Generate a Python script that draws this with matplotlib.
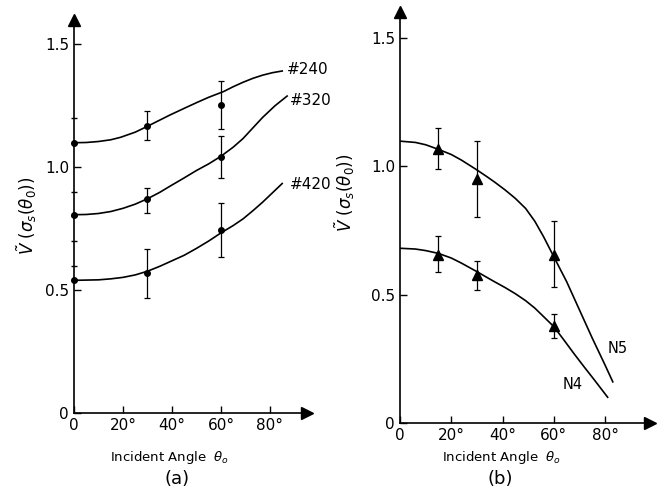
import matplotlib.pyplot as plt

# panel (a): measured points and fitted curves
ang_a = [0, 30, 60]
v240 = [1.10, 1.17, 1.255]
v240_lo = [0, 0.06, 0.10]
v240_hi = [0, 0.06, 0.095]
v320 = [0.807, 0.87, 1.042]
v320_lo = [0, 0.054, 0.085]
v320_hi = [0, 0.047, 0.085]
v420 = [0.54, 0.568, 0.744]
v420_lo = [0, 0.10, 0.11]
v420_hi = [0, 0.10, 0.11]

curve_x_a = [0, 5, 10, 15, 19, 25, 30, 35, 39, 45, 50, 55, 61, 65, 69, 73, 77, 81, 85]
c240 = [1.10, 1.101, 1.105, 1.112, 1.122, 1.143, 1.167, 1.192, 1.212, 1.24, 1.263, 1.285, 1.308,
        1.328, 1.346, 1.362, 1.375, 1.385, 1.392]
curve_x_320 = [0, 5, 10, 15, 20, 25, 30, 35, 39, 45, 50, 55, 60, 65, 69, 73, 77, 82, 87]
c320 = [0.807, 0.808, 0.812, 0.82, 0.833, 0.85, 0.872, 0.898, 0.922, 0.957, 0.987, 1.014, 1.045,
        1.082, 1.117, 1.16, 1.203, 1.25, 1.29]
curve_x_420 = [0, 5, 10, 15, 20, 25, 30, 35, 39, 45, 50, 55, 60, 65, 69, 73, 77, 81, 85]
c420 = [0.54, 0.541, 0.542, 0.546, 0.552, 0.562, 0.577, 0.597, 0.615, 0.642, 0.67, 0.7, 0.733,
        0.763, 0.79, 0.823, 0.858, 0.896, 0.934]

# panel (b)
ang_b = [15, 30, 60]
n5 = [1.066, 0.948, 0.654]
n5_lo = [0.078, 0.148, 0.126]
n5_hi = [0.081, 0.149, 0.133]
n4 = [0.654, 0.576, 0.377]
n4_lo = [0.065, 0.058, 0.047]
n4_hi = [0.074, 0.056, 0.047]

curve_x_n5 = [0, 6, 10, 15, 20, 24, 30, 34, 37, 41, 45, 49, 52.6, 56, 60, 65, 70, 75, 80, 83]
c_n5 = [1.097, 1.092, 1.083, 1.065, 1.045, 1.023, 0.985, 0.958, 0.937, 0.907, 0.874, 0.835, 0.785,
        0.725, 0.647, 0.55, 0.44, 0.33, 0.225, 0.16]
curve_x_n4 = [0, 6, 10, 15, 20, 24, 30, 34, 37, 41, 45, 49, 52.6, 56, 60, 64, 68, 72, 76, 81]
c_n4 = [0.68, 0.677, 0.671, 0.66, 0.642, 0.622, 0.589, 0.566, 0.549, 0.527, 0.503, 0.476, 0.447,
        0.414, 0.375, 0.322, 0.268, 0.216, 0.165, 0.10]

xticks = [0, 20, 40, 60, 80]
xtick_labels = ['0', '20°', '40°', '60°', '80°']
yticks = [0, 0.5, 1.0, 1.5]
ytick_labels = ['0', '0.5', '1.0', '1.5']

ylab = r'$\tilde{V}\ (\sigma_s(\theta_0))$'
xlab = r'Incident Angle  $\theta_o$'

fig = plt.figure(figsize=(6.57, 4.97), dpi=100)
ax1 = fig.add_axes([0.1126, 0.169, 0.3546, 0.791])
ax2 = fig.add_axes([0.6088, 0.149, 0.3805, 0.827])


def style_axes(ax, xmax):
    ax.set_xlim(0, xmax)
    ax.set_ylim(0, 1.6)
    for s in ['top', 'right']:
        ax.spines[s].set_visible(False)
    for s in ['left', 'bottom']:
        ax.spines[s].set_linewidth(1.2)
    ax.set_xticks(xticks)
    ax.set_xticklabels(xtick_labels, fontsize=11)
    ax.set_yticks(yticks)
    ax.set_yticklabels(ytick_labels, fontsize=11)
    ax.tick_params(direction='in', length=5, width=1)
    # arrow heads
    ax.plot(1, 0, '>k', ms=8, transform=ax.transAxes, clip_on=False)
    ax.plot(0, 1, '^k', ms=8, transform=ax.transAxes, clip_on=False)


style_axes(ax1, 95.1)
style_axes(ax2, 97.5)
ax1.set_yticks([0.6, 0.7, 0.8, 0.9, 1.1, 1.2], minor=True)
ax1.tick_params(which='minor', direction='inout', length=5, width=1)

# panel (a)
ax1.plot(curve_x_a, c240, 'k-', lw=1.2)
ax1.plot(curve_x_320, c320, 'k-', lw=1.2)
ax1.plot(curve_x_420, c420, 'k-', lw=1.2)
for v, lo, hi in [(v240, v240_lo, v240_hi), (v320, v320_lo, v320_hi), (v420, v420_lo, v420_hi)]:
    ax1.errorbar(ang_a, v, yerr=[lo, hi], fmt='o', color='k', ms=4,
                 capsize=2.5, elinewidth=0.9, capthick=0.9, clip_on=False)
ax1.text(87, 1.40, '#240', fontsize=11, va='center')
ax1.text(88, 1.27, '#320', fontsize=11, va='center')
ax1.text(88, 0.93, '#420', fontsize=11, va='center')
fig.text(27 / 657, 1 - 216 / 497, ylab, rotation=90, ha='center', va='center', fontsize=12)
fig.text(170 / 657, 1 - 457 / 497, xlab, ha='center', va='center', fontsize=9.5)
fig.text(177 / 657, 1 - 479 / 497, '(a)', ha='center', va='center', fontsize=13)

# panel (b)
ax2.plot(curve_x_n5, c_n5, 'k-', lw=1.2)
ax2.plot(curve_x_n4, c_n4, 'k-', lw=1.2)
for v, lo, hi in [(n5, n5_lo, n5_hi), (n4, n4_lo, n4_hi)]:
    ax2.errorbar(ang_b, v, yerr=[lo, hi], fmt='^', color='k', ms=7,
                 capsize=2.5, elinewidth=0.9, capthick=0.9)
ax2.text(81, 0.29, 'N5', fontsize=10.5, va='center')
ax2.text(63.5, 0.148, 'N4', fontsize=10.5, va='center')
fig.text(345 / 657, 1 - 193 / 497, ylab, rotation=90, ha='center', va='center', fontsize=12)
fig.text(502 / 657, 1 - 458 / 497, xlab, ha='center', va='center', fontsize=9.5)
fig.text(500 / 657, 1 - 479 / 497, '(b)', ha='center', va='center', fontsize=13)

fig.savefig('out.png', dpi=100)
